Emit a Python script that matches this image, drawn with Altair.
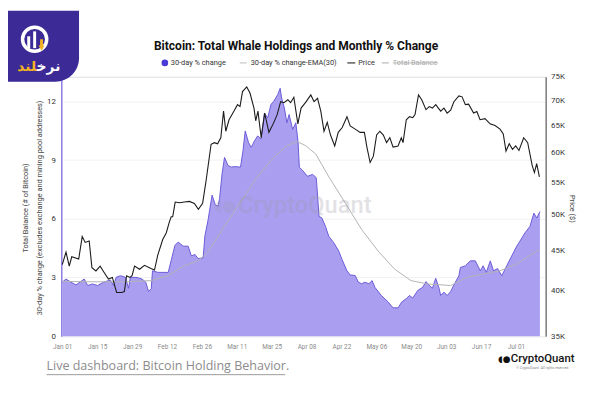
import altair as alt
import pandas as pd

# ---------------- data ----------------
# day offsets from 2024-01-01
chg_days = [0, 1.5, 3.5, 5.5, 8.8, 10.2, 12.1, 14.1, 16.6, 19.3, 20.6, 21.6, 23.3, 25.3, 26.6, 27.3,
            30, 32, 33.5, 34.6, 35.7, 36.2, 38.5, 42.5, 43.8, 45.2, 46.5, 48.5, 50.5, 51.8, 53.2,
            54.5, 56.5, 57.2, 58.5, 60.1, 61.4, 62.5, 63.1, 64.1, 65.1, 66.5, 67.8, 69.1, 71.5,
            72.5, 73.4, 74.7, 75.8, 77.1, 78.4, 79.7, 81.1, 82.4, 83.7, 84.8, 86.4, 87.4, 88.0,
            89.1, 90.1, 91.0, 92.4, 93.7, 94.6, 95.1, 96.4, 98.4, 100.4, 101.9, 103.0, 104.1,
            105.6, 106.9, 108.9, 110.9, 112.2, 114.2, 115.5, 117.5, 118.8, 120.1, 121.4, 123.0,
            124.3, 125.4, 128.0, 130.7, 132.7, 134.7, 136.2, 138.0, 139.3, 140.6, 142.6, 144.6,
            145.9, 147.2, 148.5, 149.8, 151.2, 151.8, 153.1, 154.4, 155.8, 157.1, 159.1, 159.7,
            161.7, 163.7, 165.7, 167.7, 168.8, 170.1, 171.7, 173.0, 174.6, 176.3, 178.3, 180.3,
            182.3, 183.6, 185.6, 187.6, 189.2, 190.3, 191.6]
chg_vals = [2.76, 2.92, 2.76, 2.62, 2.92, 2.59, 2.67, 2.59, 2.76, 2.87, 2.59, 3.01, 3.09, 3.01, 2.45, 3.01,
            3.00, 2.92, 2.76, 2.29, 2.43, 3.34, 3.26, 3.26, 3.93, 4.64, 4.81, 4.60, 4.60, 4.10, 4.18,
            3.97, 4.00, 5.11, 5.95, 7.21, 6.71, 6.64, 7.04, 8.30, 9.14, 8.72, 8.64, 8.67, 8.64,
            9.48, 10.49, 9.90, 9.65, 9.98, 10.24, 10.07, 11.41, 11.16, 11.84, 12.00, 12.34, 12.67, 12.17,
            11.66, 10.91, 11.33, 10.57, 10.91, 9.90, 8.64, 8.47, 8.17, 8.27, 8.10, 6.12, 6.05,
            5.61, 5.11, 4.78, 4.35, 3.93, 3.34, 3.13, 3.10, 2.76, 2.68, 2.76, 2.68,
            2.84, 2.50, 2.08, 1.75, 1.45, 1.45, 1.75, 1.92, 2.08, 1.95, 2.34, 2.50,
            2.79, 2.60, 2.45, 2.96, 2.43, 2.08, 2.25, 2.08, 2.28, 2.62, 3.09, 3.51,
            3.60, 3.85, 3.85, 3.34, 3.60, 3.26, 3.85, 3.34, 3.46, 3.09, 3.60, 4.10,
            4.60, 4.86, 5.28, 5.61, 6.29, 6.04, 6.37]

ema_days = [0, 12, 25, 35.6, 42.3, 49, 54.3, 58.3, 65, 71.6, 78.2, 84.8, 90.1, 94.1, 97.5, 101.7,
            107, 113.6, 120.1, 126.7, 133.3, 139.9, 146.5, 155.8, 162.3, 168.9, 175.5, 182.1, 191.4]
ema_vals = [2.80, 2.78, 2.78, 2.84, 3.09, 3.60, 3.85, 4.27, 5.61, 6.87, 8.13, 9.14, 9.73, 9.95, 9.75, 9.31,
            8.13, 6.79, 5.45, 4.35, 3.43, 2.84, 2.67, 2.59, 3.01, 3.18, 3.34, 3.68, 4.44]

price_days = [0, 1.5, 2.8, 3.8, 6.6, 8.0, 9.2, 10.8, 11.9, 13.5, 15.2, 16.6, 18.5, 20.1, 21.8, 23.8,
              24.9, 25.8, 27.1, 28.0, 29.0, 31.0, 33.0, 35.6, 37.0, 38.3, 40.3, 41.7, 43.0, 43.7,
              44.3, 45.3, 47.0, 49.0, 51.0, 53.0, 54.6, 56.3, 57.7, 59.7, 61.0, 62.3, 63.6, 64.7,
              65.6, 66.9, 68.9, 70.3, 71.3, 72.3, 74.0, 75.3, 76.9, 77.6, 78.5, 79.8, 81.2, 82.9,
              84.6, 86.2, 87.6, 88.9, 90.5, 91.6, 92.9, 94.5, 95.8, 97.7, 99.7, 101.0, 102.4, 103.7,
              105.0, 106.3, 107.6, 109.3, 110.7, 112.3, 114.2, 115.5, 117.5, 119.5, 121.2, 122.2,
              123.5, 124.8, 126.1, 127.4, 128.8, 130.1, 131.4, 132.7, 134.7, 136.0, 136.7, 138.0,
              139.3, 140.6, 141.5, 142.9, 144.2, 145.9, 147.2, 148.5, 149.8, 151.8, 153.1, 154.4,
              155.8, 157.1, 159.1, 160.4, 161.7, 163.0, 165.0, 166.3, 167.6, 169.6, 171.6, 173.6,
              175.6, 176.9, 178.0, 179.3, 180.6, 181.9, 183.2, 185.1, 186.7, 188.5, 189.4, 190.3, 191.4]
price_vals = [43.2, 44.8, 43.0, 44.2, 43.9, 46.9, 46.1, 46.3, 42.8, 42.4, 43.0, 42.3, 41.4, 41.6, 39.8, 39.8,
              39.9, 41.8, 41.6, 41.8, 43.0, 42.6, 43.1, 42.7, 42.5, 44.4, 46.5, 47.4, 49.0, 49.7,
              49.7, 51.9, 51.8, 51.9, 52.0, 51.7, 50.8, 51.7, 55.3, 61.5, 61.8, 61.6, 62.7, 67.8,
              63.9, 66.1, 67.8, 69.1, 68.7, 71.8, 72.8, 71.5, 68.4, 65.9, 67.8, 62.7, 67.4, 63.7,
              65.3, 67.1, 69.7, 69.5, 70.1, 69.5, 70.6, 65.3, 68.4, 69.6, 71.1, 69.7, 70.4, 67.8,
              63.9, 65.6, 63.2, 61.2, 63.7, 64.6, 66.7, 64.9, 64.3, 63.7, 63.7, 61.0,
              58.3, 59.4, 63.2, 63.9, 63.2, 61.8, 62.7, 61.0, 61.2, 62.7, 61.8, 66.1,
              66.7, 66.5, 67.1, 71.1, 70.1, 68.1, 68.7, 68.4, 69.1, 67.8, 68.4, 67.4,
              68.0, 69.7, 70.9, 70.7, 69.1, 69.2, 67.4, 67.7, 66.1, 66.3, 65.3, 65.0,
              64.3, 63.4, 60.3, 61.6, 60.6, 61.2, 60.4, 62.7, 61.8, 57.8, 56.6, 58.1, 55.9]

tick_days = [0, 14, 28, 42, 56, 70, 84, 98, 112, 126, 140, 154, 168, 182]   # Jan 01 ... Jul 01
left_ticks = [0, 3, 6, 9, 12]
price_ticks = [35, 40, 45, 50, 55, 60, 65, 70, 75]

START = pd.Timestamp("2024-01-01", tz="UTC")


def ms(d):
    return int((START + pd.Timedelta(days=float(d))).timestamp() * 1000)


chg_df = pd.DataFrame({"t": [ms(d) for d in chg_days], "v": chg_vals})
ema_df = pd.DataFrame({"t": [ms(d) for d in ema_days], "v": ema_vals})
price_df = pd.DataFrame({"t": [ms(d) for d in price_days], "p": price_vals})

W, H = 491, 263
X0 = 62   # image x of plot left
Y0 = 75   # image y of plot top

xscale = alt.Scale(type="utc", domain=[ms(-0.4), ms(193.9)], nice=False)
xaxis = alt.Axis(values=[ms(d) for d in tick_days], format="%b %d", labelFontSize=6.5,
                 labelColor="#8a8a8a", labelFont="Roboto", domain=False, ticks=False,
                 grid=False, labelPadding=7, title=None)
x_enc = alt.X("t:T", scale=xscale, axis=xaxis)

left_scale = alt.Scale(domain=[0, 13.26], nice=False, zero=True)
left_axis = alt.Axis(values=left_ticks, labelFontSize=8, labelColor="#333", labelFont="Roboto",
                     domainColor="#8f80e6", domainWidth=1.5, ticks=False, grid=True,
                     gridColor="#f2f2f2", labelPadding=6, title=None)

area = alt.Chart(chg_df).mark_area(
    color="#a99ef0", opacity=1,
    line={"color": "#6a5bd8", "strokeWidth": 1}
).encode(x=x_enc, y=alt.Y("v:Q", scale=left_scale, axis=left_axis))

ema = alt.Chart(ema_df).mark_line(color="#b3b3b3", strokeWidth=1).encode(
    x=x_enc, y=alt.Y("v:Q", scale=left_scale, axis=left_axis))

one = pd.DataFrame({"a": [0]})


def txt(text, ix, iy, **kw):
    return alt.Chart(one).mark_text(text=text, **kw).encode(
        x=alt.value(ix - X0), y=alt.value(iy - Y0))


def rule(ix1, iy1, ix2, iy2, **kw):
    return alt.Chart(one).mark_rule(**kw).encode(
        x=alt.value(ix1 - X0), y=alt.value(iy1 - Y0),
        x2=alt.value(ix2 - X0), y2=alt.value(iy2 - Y0))


watermark = txt("CryptoQuant", 309, 206, fontSize=24, font="Roboto", fontWeight=500,
                color="#9a9aa6", opacity=0.28, align="center", baseline="middle")
wm_icon = txt("◖●", 228, 206, fontSize=16, font="DejaVu Sans", color="#9a9aa6",
              opacity=0.22, align="center", baseline="middle")

left_layer = alt.layer(area, ema, watermark, wm_icon)

price = alt.Chart(price_df).mark_line(color="#1c1c1c", strokeWidth=1.1).encode(
    x=x_enc,
    y=alt.Y("p:Q",
            scale=alt.Scale(type="log", domain=[35, 75], nice=False),
            axis=alt.Axis(orient="right", values=price_ticks, labelExpr="datum.value + 'K'",
                          labelFontSize=8, labelColor="#333", labelFont="Roboto",
                          domainColor="#444", ticks=False, grid=False, labelPadding=5,
                          title=None)))

# ---------------- titles, legend, decorations ----------------
title = txt("Bitcoin: Total Whale Holdings and Monthly % Change", 300, 44, fontSize=12.2,
            fontWeight="bold", font="Roboto", color="#111",
            align="center", baseline="middle")

leg_y = 61
lf = dict(fontSize=7.5, font="Roboto", color="#333", align="left", baseline="middle")
legend = [
    alt.Chart(one).mark_point(shape="circle", filled=True, color="#4a3ad6", size=45, opacity=1)
    .encode(x=alt.value(167 - X0), y=alt.value(leg_y - Y0)),
    txt("30-day % change", 173, leg_y, **lf),
    rule(243, leg_y, 250, leg_y, color="#bdbdbd", strokeWidth=1),
    txt("30-day % change-EMA(30)", 254, leg_y, **lf),
    rule(352, leg_y, 360, leg_y, color="#333", strokeWidth=1.2),
    txt("Price", 363, leg_y, **lf),
    rule(387, leg_y, 394, leg_y, color="#aaa", strokeWidth=1),
    txt("Total Balance", 398, leg_y, fontSize=7.5, font="Roboto", color="#aaa",
        align="left", baseline="middle"),
    rule(398, leg_y, 444, leg_y, color="#aaa", strokeWidth=0.8),
]

ytitle1 = txt("Total Balance (# of Bitcoin)", 26, 208, angle=270, fontSize=7.5, font="Roboto",
              color="#444", align="center", baseline="middle")
ytitle2 = txt("30-day % change (excludes exchange and mining pool addresses)", 40, 208,
              angle=270, fontSize=7.5, font="Roboto", color="#444", align="center",
              baseline="middle")
ptitle = txt("Price ($)", 580, 209, angle=90, fontSize=7.5, font="Roboto", color="#444",
             align="center", baseline="middle")

live = txt("Live dashboard: Bitcoin Holding Behavior.", 47, 368, fontSize=12.7,
           font="Open Sans", color="#8c8c8c", align="left", baseline="middle")
live_ul = rule(47, 377, 289, 377, color="#9a9a9a", strokeWidth=1)

cq_icon = txt("◖●", 511, 361, fontSize=9, font="DejaVu Sans", color="#111",
              align="center", baseline="middle")
cq = txt("CryptoQuant", 550, 361, fontSize=11.5, font="Roboto", fontWeight=500, color="#111",
         align="center", baseline="middle")
cq_small = txt("© CryptoQuant. All rights reserved.", 550, 370, fontSize=3.5, font="Roboto",
               color="#888", align="center", baseline="middle")

# top-left brand logo
logo_bg = alt.Chart(one).mark_rect(color="#3c2a96", cornerRadiusBottomRight=24).encode(
    x=alt.value(8 - X0), x2=alt.value(80 - X0), y=alt.value(8 - Y0), y2=alt.value(80 - Y0))
ring = alt.Chart(one).mark_point(shape="circle", filled=False, fill="transparent", stroke="white",
                                 strokeWidth=3.5, size=600, opacity=1).encode(
    x=alt.value(35 - X0), y=alt.value(37 - Y0))
bar1 = rule(29, 34, 29, 46, color="white", strokeWidth=3)
bar2 = rule(35, 29, 35, 46, color="white", strokeWidth=3)
bar3 = rule(42, 37, 42, 44, color="#f5b324", strokeWidth=3)
arrow = alt.Chart(one).mark_point(shape="triangle-down", filled=True, color="#f5b324",
                                  size=35, opacity=1).encode(
    x=alt.value(42 - X0), y=alt.value(46 - Y0))
brand_w = txt("نرخ\u200d", 37, 65, fontSize=14, font="DejaVu Sans", fontWeight="bold",
              color="white", align="left", baseline="middle")
brand_y = txt("\u200dلند", 37, 65, fontSize=14, font="DejaVu Sans", fontWeight="bold",
              color="#f5b324", align="right", baseline="middle")

chart = alt.layer(
    left_layer, price,
    title, *legend, ytitle1, ytitle2, ptitle, live, live_ul, cq_icon, cq, cq_small,
    logo_bg, ring, bar1, bar2, bar3, arrow, brand_w, brand_y
).resolve_scale(y="independent").properties(
    width=W, height=H,
    autosize=alt.AutoSizeParams(type="none"),
    padding={"left": X0 - 8, "top": Y0 - 8, "right": 600 - 8 - (X0 - 8) - W,
             "bottom": 400 - 8 - (Y0 - 8) - H},
).configure_view(stroke=None).configure(background="white")

chart.save("out.html", embed_options={"renderer": "svg", "actions": False})
